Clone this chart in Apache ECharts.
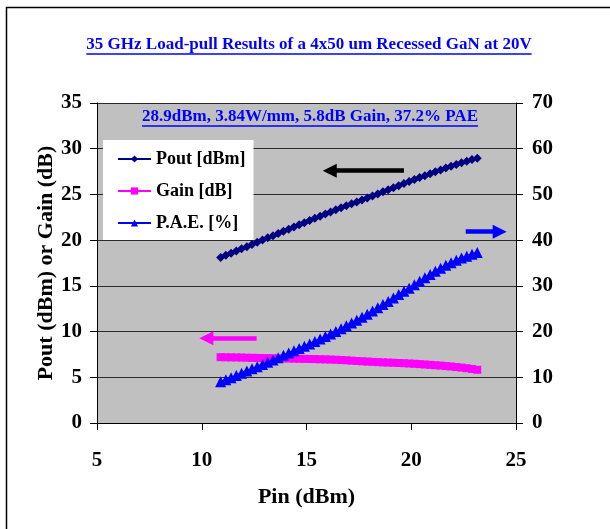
<!DOCTYPE html>
<html>
<head>
<meta charset="utf-8">
<script src="https://cdn.jsdelivr.net/npm/echarts@6/dist/echarts.min.js"></script>
<style>
  html, body { margin: 0; padding: 0; background: #fff; }
  #chart { width: 610px; height: 529px; }
</style>
</head>
<body>
<div id="chart"></div>
<script>
var titleText = "35 GHz Load-pull Results of a 4x50 um Recessed GaN at 20V";
var noteText = "28.9dBm, 3.84W/mm, 5.8dB Gain, 37.2% PAE";
var seriesNames = ["Pout [dBm]", "Gain [dB]", "P.A.E. [%]"];

var pinDbm = [10.9, 11.15, 11.4, 11.65, 11.9, 12.15, 12.4, 12.65, 12.9, 13.15,
  13.4, 13.65, 13.9, 14.15, 14.4, 14.65, 14.9, 15.15, 15.4, 15.65,
  15.9, 16.15, 16.4, 16.65, 16.9, 17.15, 17.4, 17.65, 17.9, 18.15,
  18.4, 18.65, 18.9, 19.15, 19.4, 19.65, 19.9, 20.15, 20.4, 20.65,
  20.9, 21.15, 21.4, 21.65, 21.9, 22.15, 22.4, 22.65, 22.9, 23.15];

var poutDbm = [18.10, 18.34, 18.58, 18.82, 19.06, 19.29, 19.53, 19.77, 20.01, 20.25,
  20.48, 20.72, 20.96, 21.20, 21.44, 21.67, 21.91, 22.15, 22.39, 22.62,
  22.86, 23.09, 23.32, 23.54, 23.76, 23.97, 24.18, 24.40, 24.62, 24.84,
  25.06, 25.28, 25.51, 25.74, 25.96, 26.19, 26.41, 26.63, 26.84, 27.05,
  27.26, 27.47, 27.68, 27.88, 28.08, 28.27, 28.46, 28.64, 28.81, 28.97];

var gainDb = [7.20, 7.19, 7.18, 7.17, 7.16, 7.14, 7.13, 7.12, 7.11, 7.10,
  7.08, 7.07, 7.06, 7.05, 7.04, 7.02, 7.01, 7.00, 6.99, 6.97,
  6.96, 6.94, 6.92, 6.89, 6.86, 6.82, 6.78, 6.75, 6.72, 6.69,
  6.66, 6.63, 6.61, 6.59, 6.56, 6.54, 6.51, 6.48, 6.44, 6.40,
  6.36, 6.32, 6.28, 6.23, 6.18, 6.12, 6.06, 5.99, 5.91, 5.82];

var paePct = [9.0, 9.45, 9.9, 10.4, 10.9, 11.4, 11.85, 12.3, 12.8, 13.3,
  13.8, 14.3, 14.8, 15.3, 15.8, 16.3, 16.8, 17.3, 17.85, 18.35,
  18.9, 19.45, 20.0, 20.6, 21.25, 21.9, 22.5, 23.15, 23.8, 24.5,
  25.2, 25.9, 26.6, 27.35, 28.1, 28.8, 29.5, 30.25, 31.0, 31.75,
  32.5, 33.2, 33.85, 34.5, 35.05, 35.6, 36.1, 36.5, 36.9, 37.3];

function pairs(ys) {
  return pinDbm.map(function (p, i) { return [p, ys[i]]; });
}

var FONT = '"Liberation Serif", "Times New Roman", serif';

// underline width measured from the same font
function textWidth(str, font) {
  var c = document.createElement("canvas").getContext("2d");
  c.font = font;
  return c.measureText(str).width;
}
var titleW = textWidth(titleText, "bold 17px " + FONT);
var noteW = textWidth(noteText, "bold 17px " + FONT);

var myChart = echarts.init(document.getElementById("chart"));

function arrowLine(color, from, to) {
  return {
    silent: true,
    symbol: ["none", "triangle"],
    symbolSize: [14, 14],
    label: { show: false },
    emphasis: { disabled: true },
    lineStyle: { color: color, width: 4.5, type: "solid" },
    itemStyle: { color: color },
    data: [[{ coord: from }, { coord: to }]]
  };
}

var axisLabelStyle = { color: "#000", fontFamily: FONT, fontWeight: "bold", fontSize: 21 };
var axisNameStyle = { color: "#000", fontFamily: FONT, fontWeight: "bold", fontSize: 22 };

var option = {
  animation: false,
  backgroundColor: "#fff",
  graphic: [
    {
      type: "rect", z: -10, silent: true,
      shape: { x: 6.5, y: 7.5, width: 640, height: 560 },
      style: { fill: "none", stroke: "#000", lineWidth: 1.5 }
    },
    {
      type: "text", left: 309 - titleW / 2, top: 36,
      style: { text: titleText, fill: "#0000ff", font: "bold 17px " + FONT }
    },
    {
      type: "line", silent: true,
      shape: { x1: 309 - titleW / 2, y1: 54, x2: 309 + titleW / 2, y2: 54 },
      style: { stroke: "#0000ff", lineWidth: 1.5 }
    },
    {
      type: "text", left: 310 - noteW / 2, top: 108, z: 10,
      style: { text: noteText, fill: "#0000ff", font: "bold 17px " + FONT }
    },
    {
      type: "line", silent: true, z: 10,
      shape: { x1: 310 - noteW / 2, y1: 126, x2: 310 + noteW / 2, y2: 126 },
      style: { stroke: "#0000ff", lineWidth: 1.5 }
    }
  ],
  grid: {
    left: 97, right: 94, top: 103, bottom: 106,
    show: true, backgroundColor: "#c0c0c0", borderWidth: 0
  },
  legend: {
    left: 103, top: 140, orient: "vertical",
    backgroundColor: "#fff",
    padding: [10, 8, 8, 14],
    itemWidth: 33, itemHeight: 9, itemGap: 14,
    textStyle: { color: "#000", fontFamily: FONT, fontWeight: "bold", fontSize: 18 },
    data: seriesNames
  },
  xAxis: {
    type: "value", min: 5, max: 25, interval: 5,
    name: "Pin (dBm)", nameLocation: "middle", nameGap: 63,
    nameTextStyle: axisNameStyle,
    axisLine: { onZero: false, lineStyle: { color: "#000" } },
    axisTick: { length: 7, lineStyle: { color: "#000" } },
    axisLabel: Object.assign({ margin: 27 }, axisLabelStyle),
    splitLine: { show: false }
  },
  yAxis: [
    {
      type: "value", min: 0, max: 35, interval: 5,
      name: "Pout (dBm) or Gain (dB)", nameLocation: "middle", nameGap: 40,
      nameMoveOverlap: false,
      nameTextStyle: axisNameStyle,
      axisLine: { show: true, lineStyle: { color: "#000" } },
      axisTick: { show: true, length: 7, lineStyle: { color: "#000" } },
      axisLabel: Object.assign({ margin: 15 }, axisLabelStyle),
      splitLine: { show: true, lineStyle: { color: "#2a2a2a", width: 1 } }
    },
    {
      type: "value", min: 0, max: 70, interval: 10, position: "right",
      axisLine: { show: true, lineStyle: { color: "#000" } },
      axisTick: { show: true, length: 7, lineStyle: { color: "#000" } },
      axisLabel: Object.assign({ margin: 16 }, axisLabelStyle),
      splitLine: { show: false }
    }
  ],
  series: [
    {
      name: seriesNames[0], type: "line", yAxisIndex: 0,
      data: pairs(poutDbm),
      symbol: "diamond", symbolSize: 9,
      lineStyle: { color: "#000080", width: 2 },
      itemStyle: { color: "#000080" },
      markLine: arrowLine("#000", [19.65, 27.6], [16.11, 27.6])
    },
    {
      name: seriesNames[1], type: "line", yAxisIndex: 0,
      data: pairs(gainDb),
      symbol: "rect", symbolSize: 8,
      lineStyle: { color: "#ff00ff", width: 2 },
      itemStyle: { color: "#ff00ff" },
      markLine: arrowLine("#ff00ff", [12.62, 9.27], [10.22, 9.27])
    },
    {
      name: seriesNames[2], type: "line", yAxisIndex: 1,
      data: pairs(paePct),
      symbol: "triangle", symbolSize: 11,
      lineStyle: { color: "#0000ff", width: 2 },
      itemStyle: { color: "#0000ff" },
      markLine: arrowLine("#0000ff", [22.6, 41.86], [24.22, 41.86])
    }
  ]
};

myChart.setOption(option);
</script>
</body>
</html>
